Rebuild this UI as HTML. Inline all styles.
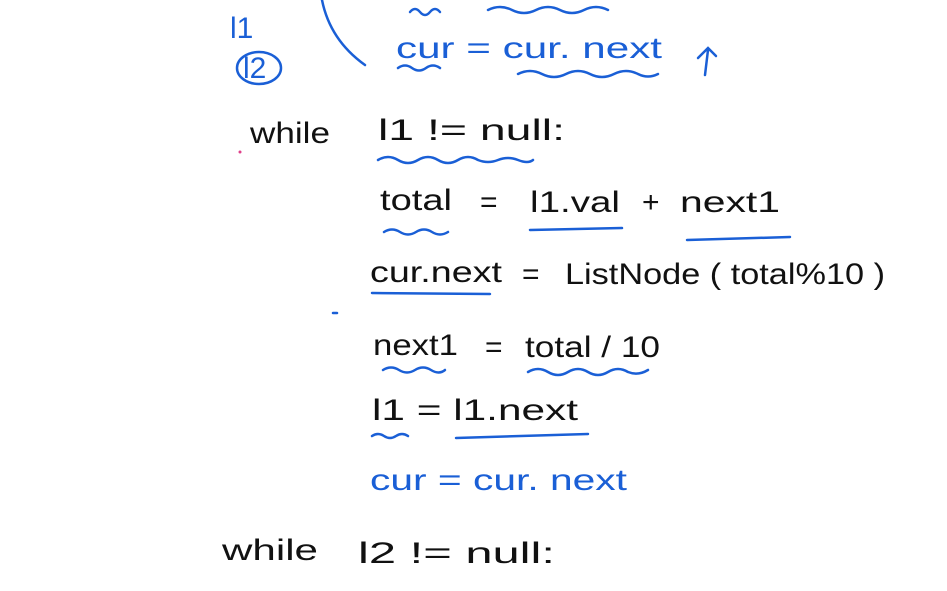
<!DOCTYPE html>
<html><head><meta charset="utf-8"><style>
html,body{margin:0;padding:0;background:#fff;}
svg{display:block;}
text{font-family:"Liberation Sans",sans-serif;font-size:30px;}
.k{fill:#111;}
.b{fill:#1a5fd6;}
.w{fill:none;stroke:#1a5fd6;stroke-width:2.5;stroke-linecap:round;}
</style></head><body>
<svg width="947" height="591" viewBox="0 0 947 591" xmlns="http://www.w3.org/2000/svg">
<!-- top arc -->
<path class="w" d="M322 0 Q330 40 365 65"/>
<path class="w" d="M410 12 q5 -6 10 0 q5 6 10 0 q5 -6 10 0"/>
<path class="w" d="M488 10 q12 -6 24 0 q12 6 24 0 q12 -6 24 0 q12 6 24 0 q12 -6 24 0"/>
<!-- l1 / l2 left -->
<text class="b" x="230" y="38" font-size="26">l1</text>
<ellipse class="w" cx="259" cy="68" rx="22" ry="16"/>
<text class="b" x="243" y="78" font-size="24">l2</text>
<!-- top cur = cur.next -->
<text class="b" x="396" y="58" textLength="266" lengthAdjust="spacingAndGlyphs">cur = cur. next</text>
<path class="w" d="M398 68 q7 -5 14 0 q7 5 14 0 q7 -5 14 0"/>
<path class="w" d="M518 74 q12 -6 24 0 q12 6 24 0 q12 -6 24 0 q12 6 24 0 q12 -6 24 0 q10 5 20 0"/>
<path class="w" d="M705 75 L708 50 M698 58 L708 48 L716 56"/>
<!-- while l1 -->
<text class="k" x="250" y="143" textLength="80" lengthAdjust="spacingAndGlyphs">while</text>
<text class="k" x="378" y="140" textLength="187" lengthAdjust="spacingAndGlyphs">l1 != null:</text>
<path class="w" d="M378 160 q10 -6 20 0 q10 6 20 0 q10 -6 20 0 q10 6 20 0 q10 -6 20 0 q10 4 20 0 q10 -4 20 0 q10 4 15 0"/>
<circle cx="240" cy="152" r="1.5" fill="#e0408a"/>
<!-- total line -->
<text class="k" x="380" y="210" textLength="72" lengthAdjust="spacingAndGlyphs">total</text>
<text class="k" x="480" y="212">=</text>
<text class="k" x="530" y="212" textLength="90" lengthAdjust="spacingAndGlyphs">l1.val</text>
<text class="k" x="642" y="212">+</text>
<text class="k" x="680" y="212" textLength="100" lengthAdjust="spacingAndGlyphs">next1</text>
<path class="w" d="M384 232 q8 -5 16 0 q8 5 16 0 q8 -5 16 0 q8 5 16 0"/>
<path class="w" d="M530 230 L622 228"/>
<path class="w" d="M687 240 L790 237"/>
<!-- cur.next = ListNode -->
<text class="k" x="370" y="282" textLength="132" lengthAdjust="spacingAndGlyphs">cur.next</text>
<text class="k" x="522" y="284">=</text>
<text class="k" x="565" y="284" textLength="320" lengthAdjust="spacingAndGlyphs">ListNode ( total%10 )</text>
<path class="w" d="M372 293 L490 294"/>
<path class="w" d="M333 313 L337 313"/>
<!-- next1 = total / 10 -->
<text class="k" x="373" y="355" textLength="85" lengthAdjust="spacingAndGlyphs">next1</text>
<text class="k" x="485" y="357">=</text>
<text class="k" x="525" y="357" textLength="135" lengthAdjust="spacingAndGlyphs">total / 10</text>
<path class="w" d="M383 370 q8 -5 16 0 q8 5 16 0 q8 -5 16 0 q8 5 14 0"/>
<path class="w" d="M528 372 q10 -6 20 0 q10 6 20 0 q10 -6 20 0 q10 6 20 0 q10 -6 20 0 q10 4 20 -2"/>
<!-- l1 = l1.next -->
<text class="k" x="372" y="420" textLength="206" lengthAdjust="spacingAndGlyphs">l1 = l1.next</text>
<path class="w" d="M372 436 q6 -4 12 0 q6 4 12 0 q6 -4 12 0"/>
<path class="w" d="M456 438 L588 434"/>
<!-- blue cur = cur.next -->
<text class="b" x="370" y="490" textLength="257" lengthAdjust="spacingAndGlyphs">cur = cur. next</text>
<!-- while l2 -->
<text class="k" x="222" y="560" textLength="96" lengthAdjust="spacingAndGlyphs">while</text>
<text class="k" x="358" y="563" textLength="197" lengthAdjust="spacingAndGlyphs">l2 != null:</text>
</svg>
</body></html>
